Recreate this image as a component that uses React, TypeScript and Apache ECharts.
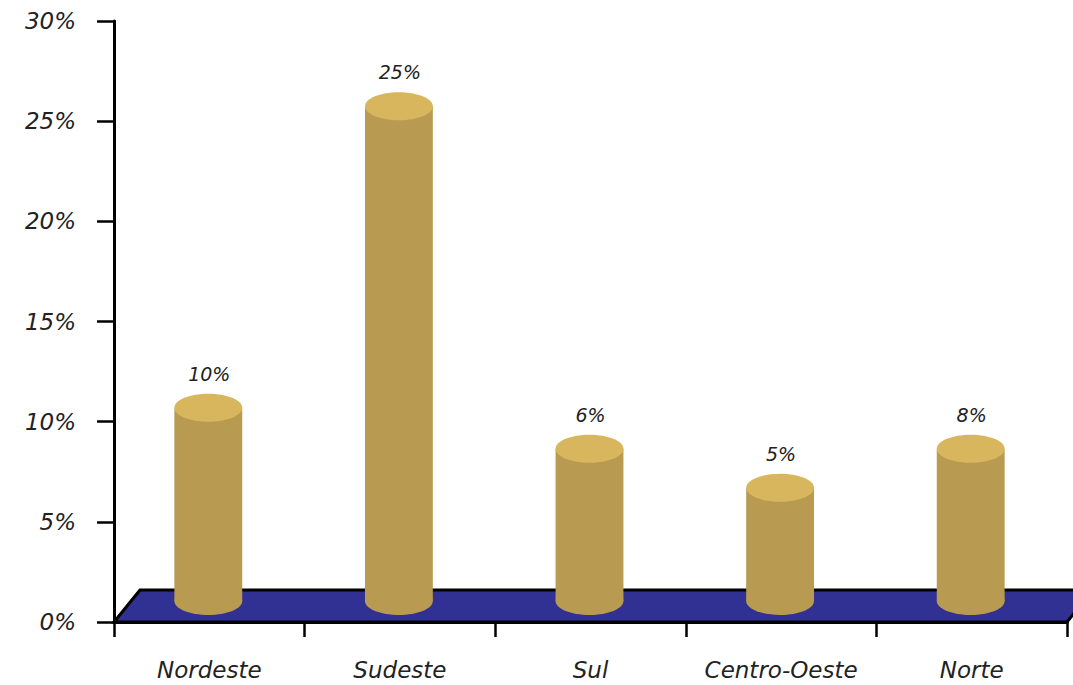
import React, { useEffect, useRef } from "react";
import * as echarts from "echarts";

const categories = ["Nordeste", "Sudeste", "Sul", "Centro-Oeste", "Norte"];
// drawn cylinder heights
const barHeights = [9.65, 24.7, 7.6, 5.65, 7.6];
// data labels printed above cylinders
const labelValues = [10, 25, 6, 5, 8];
const yTicks = { min: 0, max: 30, interval: 5 };

const TEXT = "#222222";
const FONT = '"DejaVu Sans", sans-serif';
const BODY = "#B89A50";
const TOP = "#D8B65E";
const FLOOR = "#313193";

export default function App() {
  const ref = useRef<HTMLDivElement>(null);
  useEffect(() => {
    const chart = echarts.init(ref.current!, null, { renderer: "svg" });
    const depthX = 26;
    const depthY = 32;
    chart.setOption({
      animation: false,
      backgroundColor: "#ffffff",
      grid: { left: 114, right: 6, top: 21, bottom: 63, containLabel: false },
      xAxis: {
        type: "category",
        data: categories,
        boundaryGap: true,
        axisLine: { lineStyle: { color: "#000", width: 3 } },
        axisTick: { show: true, interval: 0, length: 15, lineStyle: { color: "#000", width: 2.5 } },
        axisLabel: {
          interval: 0,
          margin: 36,
          color: TEXT,
          fontFamily: FONT,
          fontStyle: "italic",
          fontSize: 23,
        },
      },
      yAxis: {
        type: "value",
        min: yTicks.min,
        max: yTicks.max,
        interval: yTicks.interval,
        splitLine: { show: false },
        axisLine: { show: true, lineStyle: { color: "#000", width: 3 } },
        axisTick: { show: true, length: 17, lineStyle: { color: "#000", width: 2.5 } },
        axisLabel: {
          margin: 38,
          color: TEXT,
          fontFamily: FONT,
          fontStyle: "italic",
          fontSize: 23,
          formatter: (v: number) => v + "%",
        },
      },
      series: [
        {
          type: "custom",
          name: "floor",
          silent: true,
          data: [[0, 0]],
          encode: { x: 0, y: 1 },
          renderItem: (params: any, api: any) => {
            const cs = params.coordSys;
            const x0 = cs.x;
            const y0 = cs.y + cs.height;
            const w = cs.width;
            return {
              type: "polygon",
              shape: {
                points: [
                  [x0, y0],
                  [x0 + depthX, y0 - depthY],
                  [x0 + w + depthX, y0 - depthY],
                  [x0 + w, y0],
                ],
              },
              style: { fill: FLOOR, stroke: "#000", lineWidth: 3, lineJoin: "miter" },
            };
          },
        },
        {
          type: "custom",
          name: "bars",
          data: categories.map((_, i) => [i, barHeights[i], labelValues[i]]),
          encode: { x: 0, y: 1 },
          renderItem: (params: any, api: any) => {
            const idx = api.value(0);
            const h = api.value(1);
            const lab = api.value(2);
            const base = api.coord([idx, 0]);
            const top = api.coord([idx, h]);
            const bandW = api.size([1, 0])[0];
            const rx = bandW * 0.178;
            const ry = 14;
            const lift = 21;
            const cx = base[0] - 1;
            const by = base[1] - lift;
            const ty = top[1] - lift;
            return {
              type: "group",
              children: [
                {
                  type: "ellipse",
                  shape: { cx, cy: by, rx, ry },
                  style: { fill: BODY },
                },
                {
                  type: "rect",
                  shape: { x: cx - rx, y: ty, width: rx * 2, height: by - ty },
                  style: { fill: BODY },
                },
                {
                  type: "ellipse",
                  shape: { cx, cy: ty, rx, ry },
                  style: { fill: TOP },
                },
                {
                  type: "text",
                  style: {
                    x: cx + 1,
                    y: ty - 34,
                    text: lab + "%",
                    fill: TEXT,
                    fontFamily: FONT,
                    fontStyle: "italic",
                    fontSize: 19,
                    align: "center",
                    verticalAlign: "middle",
                    textAlign: "center",
                    textVerticalAlign: "middle",
                  },
                },
              ],
            };
          },
        },
      ],
    });
    return () => chart.dispose();
  }, []);
  return <div ref={ref} style={{ width: 1073, height: 685, position: "absolute", left: 0, top: 0 }} />;
}
